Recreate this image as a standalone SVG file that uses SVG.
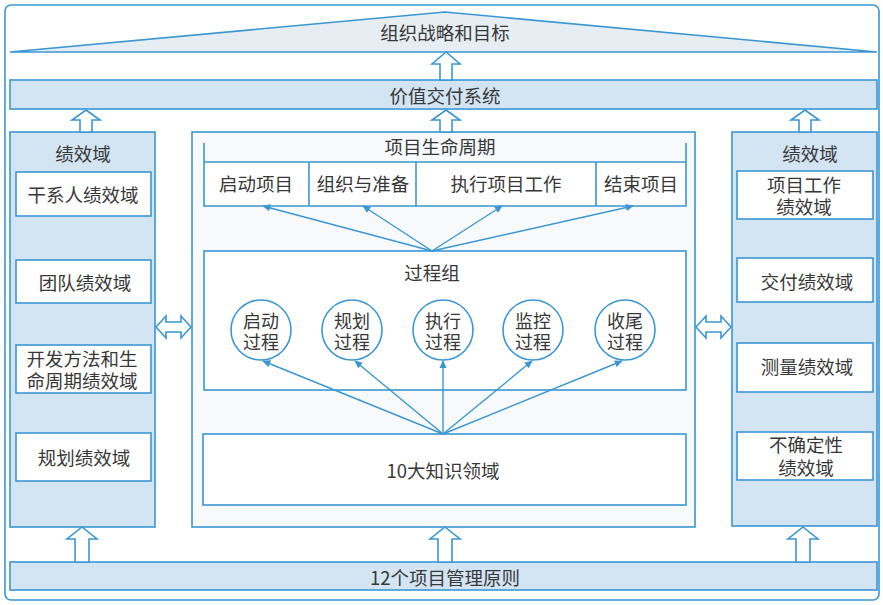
<svg xmlns="http://www.w3.org/2000/svg" width="883" height="605" viewBox="0 0 883 605">
<defs>
<style>
.ln{stroke:#3a97d4;stroke-width:1.6;fill:none}
.panel{fill:#d3e4f3;stroke:#3a97d4;stroke-width:1.6}
.box{fill:#ffffff;stroke:#3a97d4;stroke-width:1.6}
.blk{fill:#ffffff;stroke:#3a97d4;stroke-width:1.6;stroke-linejoin:miter}
.t{font-family:"Noto Sans CJK SC","Noto Sans",sans-serif;font-size:18.5px;fill:#383838;text-anchor:middle;dominant-baseline:central}
.c{font-size:18px}
.con{stroke:#3a97d4;stroke-width:1.4;fill:none;marker-end:url(#ah)}
</style>
<marker id="ah" viewBox="0 0 10 10" refX="9" refY="5" markerWidth="8" markerHeight="8" markerUnits="userSpaceOnUse" orient="auto">
<path d="M0,0.5 L10,5 L0,9.5 Z" fill="#3a97d4"/>
</marker>
</defs>
<rect x="0" y="0" width="883" height="605" fill="#ffffff"/>
<rect id="frame" x="5" y="5" width="874" height="595" rx="6" class="ln"/>

<g id="strategy">
<path d="M10,52 L445,12 L877,52 Z" fill="#e6edf3" stroke="#3a97d4" stroke-width="1.6"/>
<text class="t" x="445" y="32">组织战略和目标</text>
</g>

<g id="value">
<rect x="10" y="80" width="867" height="29" class="panel"/>
<text class="t" x="445" y="95">价值交付系统</text>
</g>

<g id="principles">
<rect x="10" y="562" width="867" height="28" class="panel"/>
<text class="t" x="445" y="577">12个项目管理原则</text>
</g>

<g id="left-domains">
<rect x="10" y="132" width="145" height="395" class="panel"/>
<text class="t" x="83" y="153">绩效域</text>
<g id="l1"><rect x="16" y="172" width="135" height="44" class="box"/><text class="t" x="83" y="194">干系人绩效域</text></g>
<g id="l2"><rect x="16" y="260" width="135" height="43" class="box"/><text class="t" x="85" y="282">团队绩效域</text></g>
<g id="l3"><rect x="16" y="345" width="135" height="48" class="box"/><text class="t" x="82"><tspan x="82" y="358">开发方法和生</tspan><tspan x="82" y="380">命周期绩效域</tspan></text></g>
<g id="l4"><rect x="16" y="433" width="135" height="48" class="box"/><text class="t" x="84" y="457">规划绩效域</text></g>
</g>

<g id="right-domains">
<rect x="732" y="132" width="145" height="394" class="panel"/>
<text class="t" x="810" y="153">绩效域</text>
<g id="r1"><rect x="737" y="171" width="136" height="48" class="box"/><text class="t"><tspan x="804" y="184">项目工作</tspan><tspan x="804" y="206">绩效域</tspan></text></g>
<g id="r2"><rect x="737" y="258" width="136" height="44" class="box"/><text class="t" x="807" y="281">交付绩效域</text></g>
<g id="r3"><rect x="737" y="343" width="136" height="49" class="box"/><text class="t" x="807" y="366">测量绩效域</text></g>
<g id="r4"><rect x="737" y="432" width="136" height="48" class="box"/><text class="t"><tspan x="806" y="444">不确定性</tspan><tspan x="806" y="467">绩效域</tspan></text></g>
</g>

<g id="center">
<rect x="192" y="132" width="503" height="395" fill="#f7f9fb" stroke="#3a97d4" stroke-width="1.6"/>
</g>

<g id="lifecycle">
<rect x="204" y="162" width="482" height="44" fill="#ffffff"/>
<path d="M204,143 L204,206 L686,206 L686,143 M204,162 L686,162 M309,162 L309,206 M416,162 L416,206 M596,162 L596,206" class="ln"/>
<text class="t" x="440" y="146">项目生命周期</text>
<text class="t" x="256" y="183">启动项目</text>
<text class="t" x="363" y="183">组织与准备</text>
<text class="t" x="506" y="183">执行项目工作</text>
<text class="t" x="641" y="183">结束项目</text>
</g>

<g id="process-group">
<rect x="204" y="251" width="482" height="139" class="box"/>
<text class="t" x="432" y="272">过程组</text>
<g id="p1"><circle cx="261" cy="330" r="30" class="box"/><text class="t c"><tspan x="261" y="320">启动</tspan><tspan x="261" y="341">过程</tspan></text></g>
<g id="p2"><circle cx="352" cy="330" r="30" class="box"/><text class="t c"><tspan x="352" y="320">规划</tspan><tspan x="352" y="341">过程</tspan></text></g>
<g id="p3"><circle cx="443" cy="330" r="30" class="box"/><text class="t c"><tspan x="443" y="320">执行</tspan><tspan x="443" y="341">过程</tspan></text></g>
<g id="p4"><circle cx="533" cy="330" r="30" class="box"/><text class="t c"><tspan x="533" y="320">监控</tspan><tspan x="533" y="341">过程</tspan></text></g>
<g id="p5"><circle cx="625" cy="330" r="30" class="box"/><text class="t c"><tspan x="625" y="320">收尾</tspan><tspan x="625" y="341">过程</tspan></text></g>
</g>

<g id="knowledge">
<rect x="203" y="434" width="483" height="71" class="box"/>
<text class="t" x="443" y="470">10大知识领域</text>
</g>

<g id="connectors">
<line x1="432" y1="251" x2="263" y2="206" class="con"/>
<line x1="432" y1="251" x2="363" y2="206" class="con"/>
<line x1="432" y1="251" x2="502" y2="206" class="con"/>
<line x1="432" y1="251" x2="633" y2="206" class="con"/>
<line x1="443" y1="434" x2="263" y2="361" class="con"/>
<line x1="443" y1="434" x2="355" y2="361" class="con"/>
<line x1="443" y1="434" x2="443" y2="361" class="con"/>
<line x1="443" y1="434" x2="532" y2="361" class="con"/>
<line x1="443" y1="434" x2="622" y2="361" class="con"/>
<path class="blk" d="M446,52 L460,64 L452,64 L452,80 L440,80 L440,64 L432,64 Z"/>
<path class="blk" d="M86,110 L100,120 L92,120 L92,132 L80,132 L80,120 L72,120 Z"/>
<path class="blk" d="M446,110 L460,120 L452,120 L452,132 L440,132 L440,120 L432,120 Z"/>
<path class="blk" d="M805,110 L819,120 L811,120 L811,132 L799,132 L799,120 L791,120 Z"/>
<path class="blk" d="M82,527 L97,539 L89,539 L89,562 L75,562 L75,539 L67,539 Z"/>
<path class="blk" d="M445,527 L460,539 L452,539 L452,562 L438,562 L438,539 L430,539 Z"/>
<path class="blk" d="M803,527 L818,539 L810,539 L810,562 L796,562 L796,539 L788,539 Z"/>
<path class="blk" d="M156,327 L166,316 L166,322 L181,322 L181,316 L191,327 L181,338 L181,332 L166,332 L166,338 Z"/>
<path class="blk" d="M696,327 L706,316 L706,322 L721,322 L721,316 L731,327 L721,338 L721,332 L706,332 L706,338 Z"/>
</g>
</svg>
